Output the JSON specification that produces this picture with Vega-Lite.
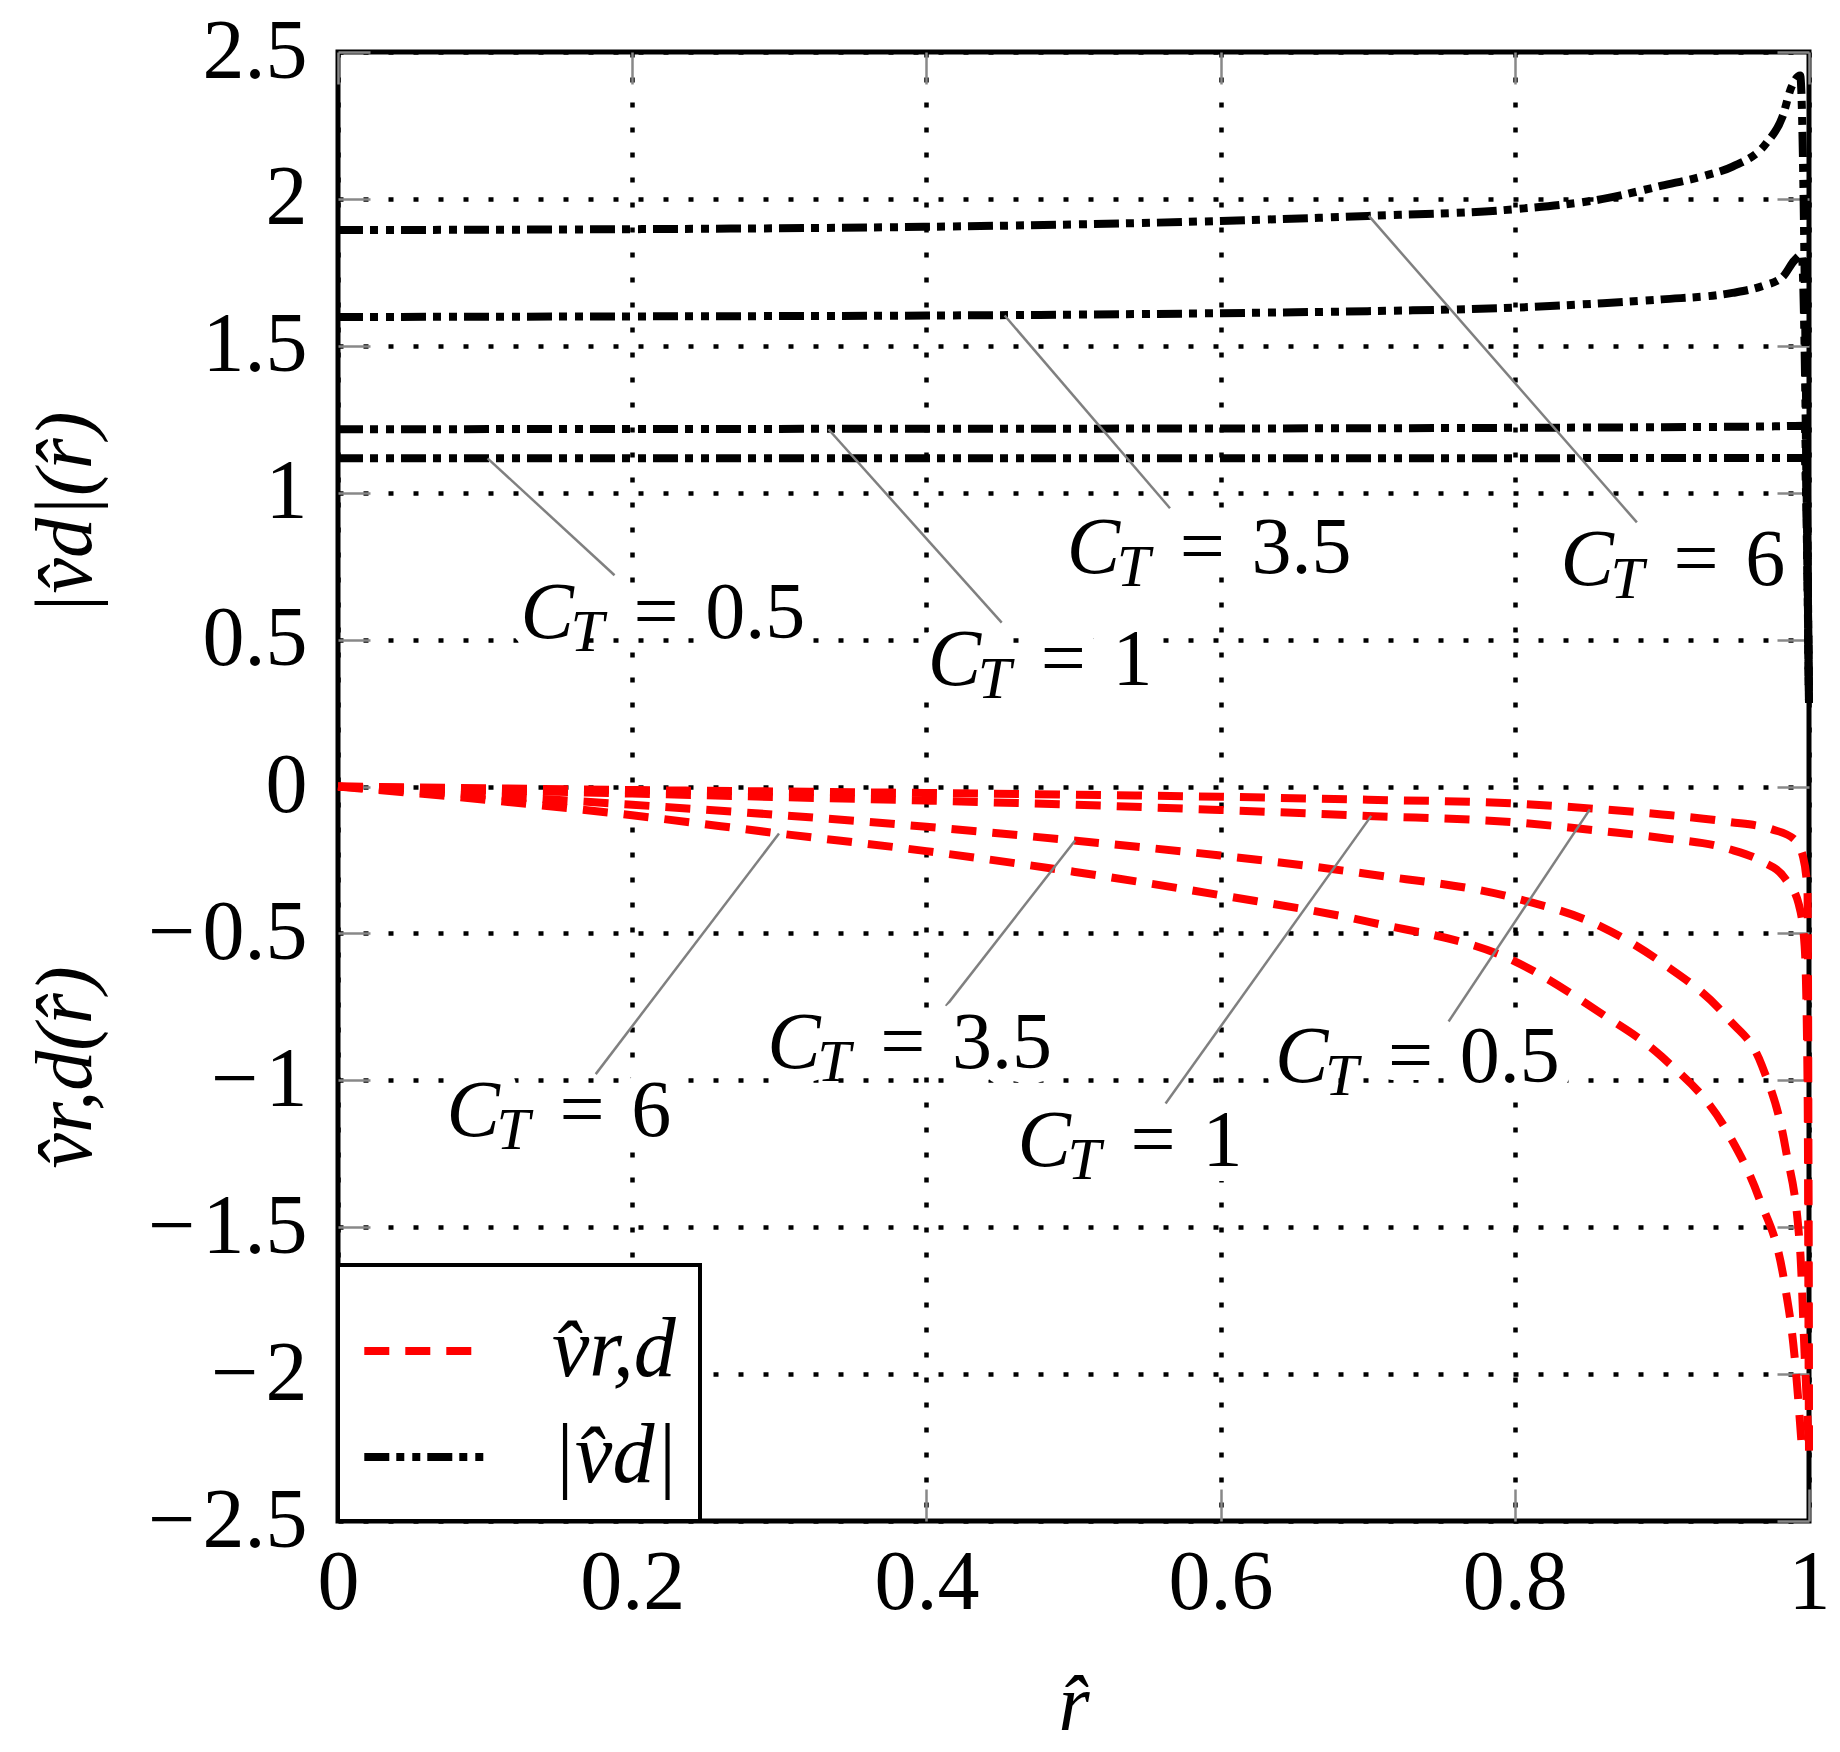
{
  "$schema": "https://vega.github.io/schema/vega-lite/v6.json",
  "width": 1471,
  "height": 1469,
  "autosize": "none",
  "padding": {"left": 338, "top": 52, "right": 31, "bottom": 231},
  "background": "white",
  "config": {
    "font": "Liberation Serif",
    "view": {"stroke": "black", "strokeWidth": 5},
    "axis": {
      "domain": false,
      "grid": false,
      "labelFont": "Liberation Serif",
      "labelFontSize": 84,
      "labelColor": "black",
      "titleFont": "Liberation Serif",
      "titleFontStyle": "italic",
      "titleFontWeight": "normal",
      "titleFontSize": 80,
      "titleColor": "black",
      "tickColor": "#888888",
      "tickWidth": 2.5
    },
    "legend": {"strokeWidth": 4},
    "text": {"font": "Liberation Serif", "color": "black"}
  },
  "datasets": {
    "curves": [
      {"kind": "vd", "ct": "0.5", "r": 0, "v": 1.117},
      {"kind": "vd", "ct": "0.5", "r": 0.25, "v": 1.117},
      {"kind": "vd", "ct": "0.5", "r": 0.5, "v": 1.117},
      {"kind": "vd", "ct": "0.5", "r": 0.75, "v": 1.117},
      {"kind": "vd", "ct": "0.5", "r": 0.9, "v": 1.118},
      {"kind": "vd", "ct": "0.5", "r": 0.98, "v": 1.118},
      {"kind": "vd", "ct": "0.5", "r": 0.997, "v": 1.118},
      {"kind": "vd", "ct": "0.5", "r": 1, "v": 0.285},
      {"kind": "vd", "ct": "1", "r": 0, "v": 1.216},
      {"kind": "vd", "ct": "1", "r": 0.25, "v": 1.217},
      {"kind": "vd", "ct": "1", "r": 0.5, "v": 1.218},
      {"kind": "vd", "ct": "1", "r": 0.75, "v": 1.22},
      {"kind": "vd", "ct": "1", "r": 0.9, "v": 1.223},
      {"kind": "vd", "ct": "1", "r": 0.98, "v": 1.226},
      {"kind": "vd", "ct": "1", "r": 0.997, "v": 1.228},
      {"kind": "vd", "ct": "1", "r": 1, "v": 0.285},
      {"kind": "vd", "ct": "3.5", "r": 0, "v": 1.598},
      {"kind": "vd", "ct": "3.5", "r": 0.2, "v": 1.6},
      {"kind": "vd", "ct": "3.5", "r": 0.4, "v": 1.603},
      {"kind": "vd", "ct": "3.5", "r": 0.5, "v": 1.606},
      {"kind": "vd", "ct": "3.5", "r": 0.6, "v": 1.611},
      {"kind": "vd", "ct": "3.5", "r": 0.7, "v": 1.618},
      {"kind": "vd", "ct": "3.5", "r": 0.8, "v": 1.63},
      {"kind": "vd", "ct": "3.5", "r": 0.86, "v": 1.645},
      {"kind": "vd", "ct": "3.5", "r": 0.9, "v": 1.658},
      {"kind": "vd", "ct": "3.5", "r": 0.948, "v": 1.68},
      {"kind": "vd", "ct": "3.5", "r": 0.968, "v": 1.703},
      {"kind": "vd", "ct": "3.5", "r": 0.982, "v": 1.734},
      {"kind": "vd", "ct": "3.5", "r": 0.99, "v": 1.79},
      {"kind": "vd", "ct": "3.5", "r": 0.995, "v": 1.81},
      {"kind": "vd", "ct": "3.5", "r": 1, "v": 0.285},
      {"kind": "vd", "ct": "6", "r": 0, "v": 1.894},
      {"kind": "vd", "ct": "6", "r": 0.1, "v": 1.895},
      {"kind": "vd", "ct": "6", "r": 0.2, "v": 1.897},
      {"kind": "vd", "ct": "6", "r": 0.3, "v": 1.9},
      {"kind": "vd", "ct": "6", "r": 0.4, "v": 1.905},
      {"kind": "vd", "ct": "6", "r": 0.5, "v": 1.913},
      {"kind": "vd", "ct": "6", "r": 0.6, "v": 1.925},
      {"kind": "vd", "ct": "6", "r": 0.7, "v": 1.942},
      {"kind": "vd", "ct": "6", "r": 0.8, "v": 1.965},
      {"kind": "vd", "ct": "6", "r": 0.86, "v": 2.0},
      {"kind": "vd", "ct": "6", "r": 0.9, "v": 2.045},
      {"kind": "vd", "ct": "6", "r": 0.93, "v": 2.08},
      {"kind": "vd", "ct": "6", "r": 0.948, "v": 2.11},
      {"kind": "vd", "ct": "6", "r": 0.971, "v": 2.19},
      {"kind": "vd", "ct": "6", "r": 0.982, "v": 2.28},
      {"kind": "vd", "ct": "6", "r": 0.988, "v": 2.38},
      {"kind": "vd", "ct": "6", "r": 0.994, "v": 2.42},
      {"kind": "vd", "ct": "6", "r": 1, "v": 0.285},
      {"kind": "vr", "ct": "0.5", "r": 0, "v": 0},
      {"kind": "vr", "ct": "0.5", "r": 0.1, "v": -0.006},
      {"kind": "vr", "ct": "0.5", "r": 0.2, "v": -0.012},
      {"kind": "vr", "ct": "0.5", "r": 0.3, "v": -0.017},
      {"kind": "vr", "ct": "0.5", "r": 0.4, "v": -0.022},
      {"kind": "vr", "ct": "0.5", "r": 0.5, "v": -0.028},
      {"kind": "vr", "ct": "0.5", "r": 0.6, "v": -0.035},
      {"kind": "vr", "ct": "0.5", "r": 0.7, "v": -0.045},
      {"kind": "vr", "ct": "0.5", "r": 0.8, "v": -0.058},
      {"kind": "vr", "ct": "0.5", "r": 0.86, "v": -0.078},
      {"kind": "vr", "ct": "0.5", "r": 0.9, "v": -0.095},
      {"kind": "vr", "ct": "0.5", "r": 0.945, "v": -0.12},
      {"kind": "vr", "ct": "0.5", "r": 0.975, "v": -0.146},
      {"kind": "vr", "ct": "0.5", "r": 0.99, "v": -0.18},
      {"kind": "vr", "ct": "0.5", "r": 0.996, "v": -0.24},
      {"kind": "vr", "ct": "0.5", "r": 0.999, "v": -0.36},
      {"kind": "vr", "ct": "0.5", "r": 1, "v": -2.26},
      {"kind": "vr", "ct": "1", "r": 0, "v": 0},
      {"kind": "vr", "ct": "1", "r": 0.1, "v": -0.012},
      {"kind": "vr", "ct": "1", "r": 0.2, "v": -0.024},
      {"kind": "vr", "ct": "1", "r": 0.3, "v": -0.036},
      {"kind": "vr", "ct": "1", "r": 0.4, "v": -0.048},
      {"kind": "vr", "ct": "1", "r": 0.5, "v": -0.062},
      {"kind": "vr", "ct": "1", "r": 0.6, "v": -0.08},
      {"kind": "vr", "ct": "1", "r": 0.7, "v": -0.1},
      {"kind": "vr", "ct": "1", "r": 0.8, "v": -0.122},
      {"kind": "vr", "ct": "1", "r": 0.86, "v": -0.152},
      {"kind": "vr", "ct": "1", "r": 0.9, "v": -0.175},
      {"kind": "vr", "ct": "1", "r": 0.945, "v": -0.212},
      {"kind": "vr", "ct": "1", "r": 0.968, "v": -0.255},
      {"kind": "vr", "ct": "1", "r": 0.984, "v": -0.315},
      {"kind": "vr", "ct": "1", "r": 0.993, "v": -0.4},
      {"kind": "vr", "ct": "1", "r": 0.997, "v": -0.54},
      {"kind": "vr", "ct": "1", "r": 0.999, "v": -1.0},
      {"kind": "vr", "ct": "1", "r": 1, "v": -2.26},
      {"kind": "vr", "ct": "3.5", "r": 0, "v": 0},
      {"kind": "vr", "ct": "3.5", "r": 0.1, "v": -0.03},
      {"kind": "vr", "ct": "3.5", "r": 0.2, "v": -0.062},
      {"kind": "vr", "ct": "3.5", "r": 0.3, "v": -0.097},
      {"kind": "vr", "ct": "3.5", "r": 0.4, "v": -0.137},
      {"kind": "vr", "ct": "3.5", "r": 0.5, "v": -0.184},
      {"kind": "vr", "ct": "3.5", "r": 0.6, "v": -0.235},
      {"kind": "vr", "ct": "3.5", "r": 0.7, "v": -0.298},
      {"kind": "vr", "ct": "3.5", "r": 0.8, "v": -0.38},
      {"kind": "vr", "ct": "3.5", "r": 0.858, "v": -0.475},
      {"kind": "vr", "ct": "3.5", "r": 0.9, "v": -0.6},
      {"kind": "vr", "ct": "3.5", "r": 0.945, "v": -0.79},
      {"kind": "vr", "ct": "3.5", "r": 0.968, "v": -0.95},
      {"kind": "vr", "ct": "3.5", "r": 0.984, "v": -1.23},
      {"kind": "vr", "ct": "3.5", "r": 0.994, "v": -1.58},
      {"kind": "vr", "ct": "3.5", "r": 0.997, "v": -1.93},
      {"kind": "vr", "ct": "3.5", "r": 1, "v": -2.26},
      {"kind": "vr", "ct": "6", "r": 0, "v": 0},
      {"kind": "vr", "ct": "6", "r": 0.1, "v": -0.045},
      {"kind": "vr", "ct": "6", "r": 0.2, "v": -0.098},
      {"kind": "vr", "ct": "6", "r": 0.3, "v": -0.16},
      {"kind": "vr", "ct": "6", "r": 0.4, "v": -0.22},
      {"kind": "vr", "ct": "6", "r": 0.5, "v": -0.29},
      {"kind": "vr", "ct": "6", "r": 0.6, "v": -0.37},
      {"kind": "vr", "ct": "6", "r": 0.7, "v": -0.46},
      {"kind": "vr", "ct": "6", "r": 0.8, "v": -0.595},
      {"kind": "vr", "ct": "6", "r": 0.858, "v": -0.77},
      {"kind": "vr", "ct": "6", "r": 0.9, "v": -0.92},
      {"kind": "vr", "ct": "6", "r": 0.945, "v": -1.18},
      {"kind": "vr", "ct": "6", "r": 0.966, "v": -1.4},
      {"kind": "vr", "ct": "6", "r": 0.983, "v": -1.68},
      {"kind": "vr", "ct": "6", "r": 0.99, "v": -1.93},
      {"kind": "vr", "ct": "6", "r": 0.995, "v": -2.24}
    ],
    "leaders": [
      {"kind": "vd", "ct": "0.5", "x1": 0.1017, "y1": 1.117, "x2": 0.188, "y2": 0.719},
      {"kind": "vd", "ct": "1", "x1": 0.3334, "y1": 1.216, "x2": 0.4512, "y2": 0.5575},
      {"kind": "vd", "ct": "3.5", "x1": 0.4532, "y1": 1.603, "x2": 0.5656, "y2": 0.947},
      {"kind": "vd", "ct": "6", "x1": 0.7008, "y1": 1.942, "x2": 0.883, "y2": 0.899},
      {"kind": "vr", "ct": "6", "x1": 0.2998, "y1": -0.16, "x2": 0.1752, "y2": -0.979},
      {"kind": "vr", "ct": "3.5", "x1": 0.5011, "y1": -0.184, "x2": 0.4133, "y2": -0.7475},
      {"kind": "vr", "ct": "1", "x1": 0.7024, "y1": -0.1, "x2": 0.5626, "y2": -1.079},
      {"kind": "vr", "ct": "0.5", "x1": 0.851, "y1": -0.078, "x2": 0.755, "y2": -0.8}
    ],
    "labels": [
      {"kind": "vd", "ct": "0.5", "x": 0.1241, "y": 0.507, "t": "=\u20040.5"},
      {"kind": "vd", "ct": "1", "x": 0.4009, "y": 0.3455, "t": "=\u20041"},
      {"kind": "vd", "ct": "3.5", "x": 0.4954, "y": 0.7257, "t": "=\u20043.5"},
      {"kind": "vd", "ct": "6", "x": 0.831, "y": 0.687, "t": "=\u20046"},
      {"kind": "vr", "ct": "6", "x": 0.0738, "y": -1.191, "t": "=\u20046"},
      {"kind": "vr", "ct": "3.5", "x": 0.2918, "y": -0.959, "t": "=\u20043.5"},
      {"kind": "vr", "ct": "1", "x": 0.462, "y": -1.291, "t": "=\u20041"},
      {"kind": "vr", "ct": "0.5", "x": 0.6369, "y": -1.007, "t": "=\u20040.5"}
    ]
  },
  "resolve": {"axis": {"x": "independent", "y": "independent"}},
  "layer": [
    {
      "data": {"name": "curves"},
      "mark": {"type": "line", "strokeWidth": 8, "interpolate": "monotone"},
      "encoding": {
        "x": {
          "field": "r",
          "type": "quantitative",
          "scale": {"domain": [0, 1], "nice": false, "zero": false},
          "axis": {
            "orient": "bottom",
            "values": [0, 0.2, 0.4, 0.6, 0.8, 1],
            "format": "~g",
            "labelFlush": false,
            "grid": true,
            "gridColor": "black",
            "gridDash": [5, 20],
            "gridWidth": 4.5,
            "tickSize": -32,
            "labelPadding": 119,
            "labelBaseline": "alphabetic",
            "title": "r\u0302",
            "titleY": 208,
            "titleBaseline": "alphabetic"
          }
        },
        "y": {
          "field": "v",
          "type": "quantitative",
          "scale": {"domain": [-2.5, 2.5], "nice": false, "zero": false},
          "axis": {
            "orient": "left",
            "values": [-2.5, -2, -1.5, -1, -0.5, 0, 0.5, 1, 1.5, 2, 2.5],
            "format": "~g",
            "labelExpr": "replace(replace(datum.label, '-', '\u2212'), '\u2212', '\u2212\u200a')",
            "labelFlush": false,
            "grid": true,
            "gridColor": "black",
            "gridDash": [5, 20],
            "gridWidth": 4.5,
            "tickSize": -32,
            "labelPadding": 63,
            "title": "v\u0302r,d(r\u0302)",
            "titleAngle": 270,
            "titleX": -248,
            "titleY": 1015,
            "titleBaseline": "alphabetic"
          }
        },
        "color": {
          "field": "kind",
          "type": "nominal",
          "scale": {"domain": ["vr", "vd"], "range": ["#ff0000", "#000000"]},
          "legend": {
            "title": null,
            "orient": "bottom-left",
            "offset": 0,
            "padding": 22,
            "symbolType": "stroke",
            "symbolSize": 14260,
            "symbolStrokeWidth": 8,
            "labelFont": "Liberation Serif",
            "labelFontSize": 84,
            "labelFontStyle": "italic",
            "labelColor": "black",
            "labelOffset": 64,
            "rowPadding": 0,
            "labelExpr": "datum.value == 'vr' ? 'v\u0302r,d' : '|v\u0302d|'",
            "strokeColor": "black",
            "fillColor": "white"
          }
        },
        "strokeDash": {
          "field": "kind",
          "type": "nominal",
          "scale": {"domain": ["vr", "vd"], "range": [[25, 16], [25, 7, 8, 8, 8, 7]]},
          "legend": {
            "title": null,
            "orient": "bottom-left",
            "offset": 0,
            "padding": 22,
            "symbolType": "stroke",
            "symbolSize": 14260,
            "symbolStrokeWidth": 8,
            "labelFont": "Liberation Serif",
            "labelFontSize": 84,
            "labelFontStyle": "italic",
            "labelColor": "black",
            "labelOffset": 64,
            "rowPadding": 0,
            "labelExpr": "datum.value == 'vr' ? 'v\u0302r,d' : '|v\u0302d|'",
            "strokeColor": "black",
            "fillColor": "white"
          }
        },
        "detail": {"field": "ct"}
      }
    },
    {
      "data": {"name": "leaders"},
      "mark": {"type": "rule", "color": "#808080", "strokeWidth": 2.5},
      "encoding": {
        "x": {
          "field": "x1",
          "type": "quantitative",
          "scale": {"domain": [0, 1], "nice": false, "zero": false},
          "axis": {"orient": "top", "values": [0, 0.2, 0.4, 0.6, 0.8, 1], "labels": false, "tickSize": -32, "title": null}
        },
        "y": {
          "field": "y1",
          "type": "quantitative",
          "scale": {"domain": [-2.5, 2.5], "nice": false, "zero": false},
          "axis": {"orient": "right", "values": [-2.5, -2, -1.5, -1, -0.5, 0, 0.5, 1, 1.5, 2, 2.5], "labels": false, "tickSize": -32, "title": null}
        },
        "x2": {"field": "x2"},
        "y2": {"field": "y2"}
      }
    },
    {
      "data": {"name": "labels"},
      "mark": {"type": "text", "fontSize": 80, "fontStyle": "italic", "align": "left", "baseline": "alphabetic", "stroke": "white", "strokeWidth": 30, "strokeJoin": "round", "color": "white"},
      "encoding": {
        "x": {"field": "x", "type": "quantitative", "axis": null},
        "y": {
          "field": "y",
          "type": "quantitative",
          "axis": {
            "orient": "left",
            "labels": false,
            "ticks": false,
            "title": "|v\u0302d|(r\u0302)",
            "titleAngle": 270,
            "titleX": -248,
            "titleY": 461,
            "titleBaseline": "alphabetic"
          }
        },
        "text": {"value": "C"}
      }
    },
    {
      "data": {"name": "labels"},
      "mark": {"type": "text", "fontSize": 80, "align": "left", "baseline": "alphabetic", "dx": 113, "stroke": "white", "strokeWidth": 30, "strokeJoin": "round", "color": "white"},
      "encoding": {
        "x": {"field": "x", "type": "quantitative", "axis": null},
        "y": {"field": "y", "type": "quantitative", "axis": null},
        "text": {"field": "t"}
      }
    },
    {
      "data": {"name": "labels"},
      "mark": {"type": "text", "fontSize": 80, "fontStyle": "italic", "align": "left", "baseline": "alphabetic"},
      "encoding": {
        "x": {"field": "x", "type": "quantitative", "axis": null},
        "y": {"field": "y", "type": "quantitative", "axis": null},
        "text": {"value": "C"}
      }
    },
    {
      "data": {"name": "labels"},
      "mark": {"type": "text", "fontSize": 60, "fontStyle": "italic", "align": "left", "baseline": "alphabetic", "dx": 50, "dy": 13},
      "encoding": {
        "x": {"field": "x", "type": "quantitative", "axis": null},
        "y": {"field": "y", "type": "quantitative", "axis": null},
        "text": {"value": "T"}
      }
    },
    {
      "data": {"name": "labels"},
      "mark": {"type": "text", "fontSize": 80, "align": "left", "baseline": "alphabetic", "dx": 113},
      "encoding": {
        "x": {"field": "x", "type": "quantitative", "axis": null},
        "y": {"field": "y", "type": "quantitative", "axis": null},
        "text": {"field": "t"}
      }
    }
  ]
}
